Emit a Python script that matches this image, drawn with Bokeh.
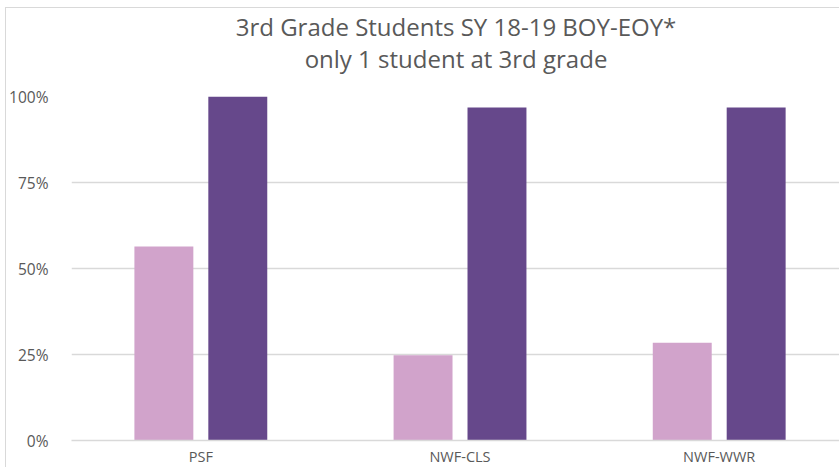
from bokeh.plotting import figure
from bokeh.models import ColumnDataSource, Range1d, FixedTicker, NumeralTickFormatter, Title
from bokeh.transform import dodge
from bokeh.embed import file_html
from bokeh.resources import INLINE

categories = ["PSF", "NWF-CLS", "NWF-WWR"]
boy = [0.564, 0.248, 0.284]
eoy = [1.00, 0.968, 0.968]
y_ticks = [0, 0.25, 0.5, 0.75, 1.0]
title_lines = ["3rd Grade Students SY 18-19 BOY-EOY*", "only 1 student at 3rd grade"]

LIGHT = "#D1A3CB"
DARK = "#66488B"
TEXT = "#595959"
GRID = "#D9D9D9"
FONT = "Open Sans"

idx = list(range(len(categories)))
src = ColumnDataSource(dict(x=idx, cat=categories, boy=boy, eoy=eoy))

p = figure(width=834, height=460, output_backend="svg", toolbar_location=None,
           x_range=Range1d(-0.499, 2.468), y_range=Range1d(0, 1),
           min_border_left=64, min_border_right=0, min_border_top=88, min_border_bottom=28,
           margin=(7, 0, 0, 5),
           styles={"border-left": "1px solid #D9D9D9", "border-top": "1px solid #D9D9D9"})
p.outline_line_color = None
p.background_fill_color = "white"
p.border_fill_color = "white"

spacer = Title(text=" ", text_font=FONT, text_font_size="10px", standoff=6)
t2 = Title(text=title_lines[1], align="center", text_font=FONT,
           text_font_size="24px", text_font_style="normal", text_color=TEXT, standoff=0)
t1 = Title(text=title_lines[0], align="center", text_font=FONT,
           text_font_size="24px", text_font_style="normal", text_color=TEXT, standoff=-6)
p.add_layout(spacer, "above")
p.add_layout(t2, "above")
p.add_layout(t1, "above")

w = 0.2274
p.vbar(x=dodge("x", -0.1426, range=p.x_range), top="boy", width=w, source=src,
       fill_color=LIGHT, line_color=None)
p.vbar(x=dodge("x", 0.1426, range=p.x_range), top="eoy", width=w, source=src,
       fill_color=DARK, line_color=None)

p.xgrid.grid_line_color = None
p.ygrid.ticker = FixedTicker(ticks=y_ticks)
p.ygrid.grid_line_color = GRID
p.ygrid.grid_line_width = 1.5

p.yaxis.ticker = FixedTicker(ticks=y_ticks)
p.yaxis.formatter = NumeralTickFormatter(format="0%")
p.yaxis.axis_line_color = None
p.yaxis.major_tick_line_color = None
p.yaxis.minor_tick_line_color = None
p.yaxis.major_tick_out = 0
p.yaxis.major_tick_in = 0
p.yaxis.major_label_standoff = 23
p.yaxis.major_label_text_font = FONT
p.yaxis.major_label_text_font_size = "15.5px"
p.yaxis.major_label_text_color = TEXT

p.xaxis.ticker = FixedTicker(ticks=idx)
p.xaxis.major_label_overrides = {i: c for i, c in zip(idx, categories)}
p.xaxis.axis_line_color = GRID
p.xaxis.axis_line_width = 1.5
p.xaxis.major_tick_line_color = None
p.xaxis.minor_tick_line_color = None
p.xaxis.major_tick_out = 0
p.xaxis.major_tick_in = 0
p.xaxis.major_label_standoff = 6
p.xaxis.major_label_text_font = FONT
p.xaxis.major_label_text_font_size = "14.5px"
p.xaxis.major_label_text_color = TEXT

open("out.html", "w").write(file_html(p, INLINE))
